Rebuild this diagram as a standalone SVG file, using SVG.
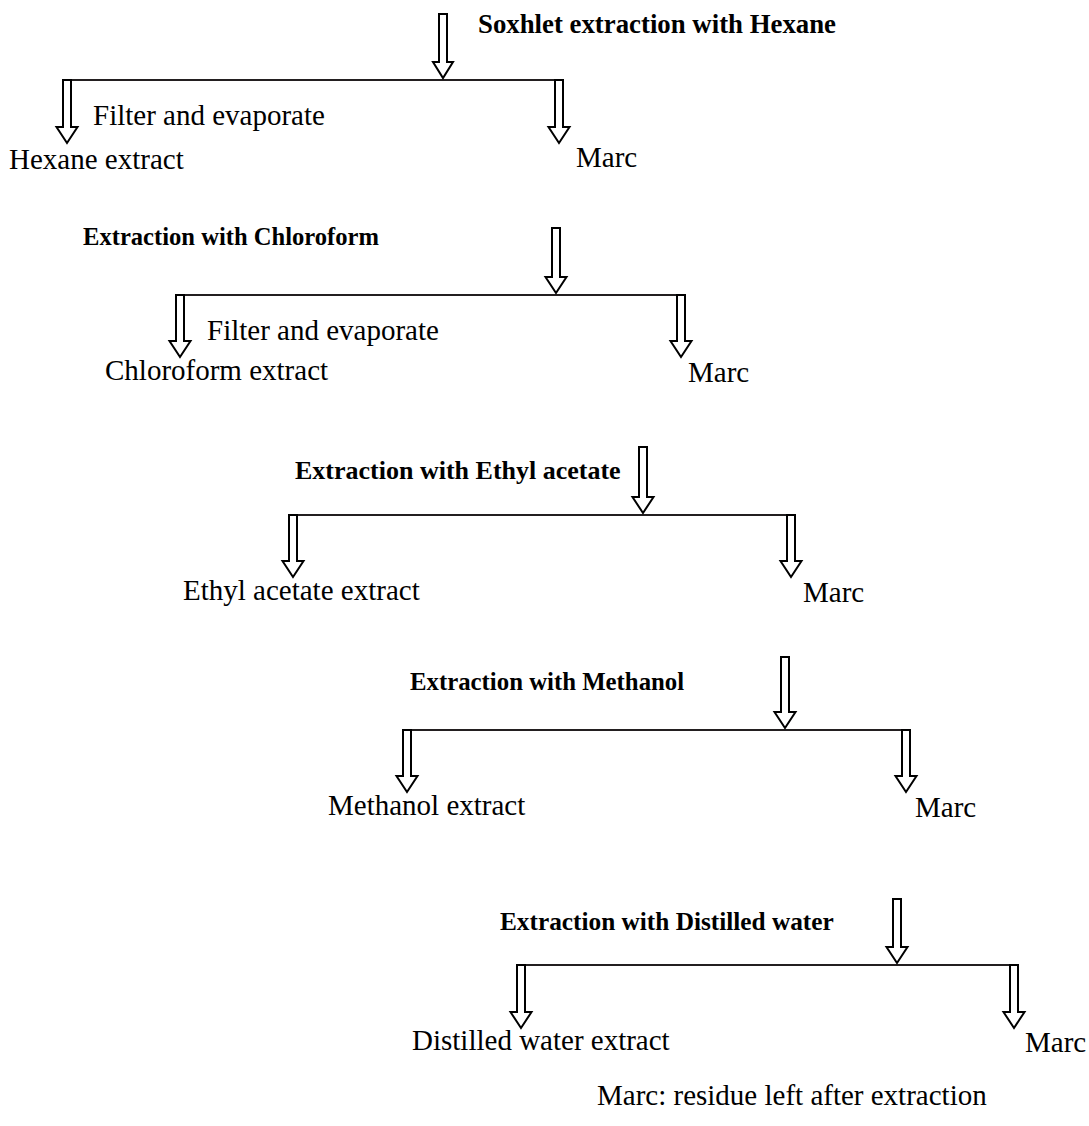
<svg xmlns="http://www.w3.org/2000/svg" width="1089" height="1126" viewBox="0 0 1089 1126">
<style>
.t{font-family:"Liberation Serif","Times New Roman",serif;font-size:29px;fill:#000}
.b{font-family:"Liberation Serif","Times New Roman",serif;font-size:26px;font-weight:bold;fill:#000}
.ar{fill:#fff;stroke:#000;stroke-width:2;stroke-linejoin:miter}
.ln{fill:none;stroke:#231f20;stroke-width:2.2}
</style>
<rect width="1089" height="1126" fill="#fff"/>
<g id="connectors">
<path class="ln" d="M63,80 H563"/>
<path class="ar" d="M439,14 H447 V62 H453 L443,78 L433,62 H439 Z"/>
<path class="ar" d="M63,80 H71 V127 H77.5 L67,143 L56.5,127 H63 Z"/>
<path class="ar" d="M555,80 H563 V127 H569.5 L559,143 L548.5,127 H555 Z"/>

<path class="ln" d="M176,295 H685"/>
<path class="ar" d="M552,228 H560 V277 H566.5 L556,293 L545.5,277 H552 Z"/>
<path class="ar" d="M176,295 H184 V341 H190.5 L180,357 L169.5,341 H176 Z"/>
<path class="ar" d="M677,295 H685 V341 H691.5 L681,357 L670.5,341 H677 Z"/>

<path class="ln" d="M289,515 H795"/>
<path class="ar" d="M639,447 H647 V497 H653.5 L643,513 L632.5,497 H639 Z"/>
<path class="ar" d="M289,515 H297 V561 H303.5 L293,577 L282.5,561 H289 Z"/>
<path class="ar" d="M787,515 H795 V561 H801.5 L791,577 L780.5,561 H787 Z"/>

<path class="ln" d="M403,730 H910"/>
<path class="ar" d="M781,657 H789 V712 H795.5 L785,728 L774.5,712 H781 Z"/>
<path class="ar" d="M403,730 H411 V776 H417.5 L407,792 L396.5,776 H403 Z"/>
<path class="ar" d="M902,730 H910 V776 H916.5 L906,792 L895.5,776 H902 Z"/>

<path class="ln" d="M517,965 H1018"/>
<path class="ar" d="M893,899 H901 V947 H907.5 L897,963 L886.5,947 H893 Z"/>
<path class="ar" d="M517,965 H525 V1012 H531.5 L521,1028 L510.5,1012 H517 Z"/>
<path class="ar" d="M1010,965 H1018 V1012 H1024.5 L1014,1028 L1003.5,1012 H1010 Z"/>
</g>
<g id="step1">
<text class="b" x="478" y="33" style="font-size:26.8px">Soxhlet extraction with Hexane</text>
<text class="t" x="93" y="125">Filter and evaporate</text>
</g>
<g id="hexane-extract"><text class="t" x="9" y="169">Hexane extract</text></g>
<g id="marc1"><text class="t" x="576" y="167">Marc</text></g>
<g id="step2">
<text class="b" x="83" y="245" style="font-size:24.6px">Extraction with Chloroform</text>
<text class="t" x="207" y="340">Filter and evaporate</text>
</g>
<g id="chloroform-extract"><text class="t" x="105" y="380">Chloroform extract</text></g>
<g id="marc2"><text class="t" x="688" y="382">Marc</text></g>
<g id="step3"><text class="b" x="295" y="479">Extraction with Ethyl acetate</text></g>
<g id="ethyl-acetate-extract"><text class="t" x="183" y="600">Ethyl acetate extract</text></g>
<g id="marc3"><text class="t" x="803" y="602">Marc</text></g>
<g id="step4"><text class="b" x="410" y="690" style="font-size:24.8px">Extraction with Methanol</text></g>
<g id="methanol-extract"><text class="t" x="328" y="815">Methanol extract</text></g>
<g id="marc4"><text class="t" x="915" y="817">Marc</text></g>
<g id="step5"><text class="b" x="500" y="930" style="font-size:25.3px">Extraction with Distilled water</text></g>
<g id="distilled-water-extract"><text class="t" x="412" y="1050">Distilled water extract</text></g>
<g id="marc5"><text class="t" x="1025" y="1052">Marc</text></g>
<g id="legend"><text class="t" x="597" y="1105">Marc: residue left after extraction</text></g>
</svg>
